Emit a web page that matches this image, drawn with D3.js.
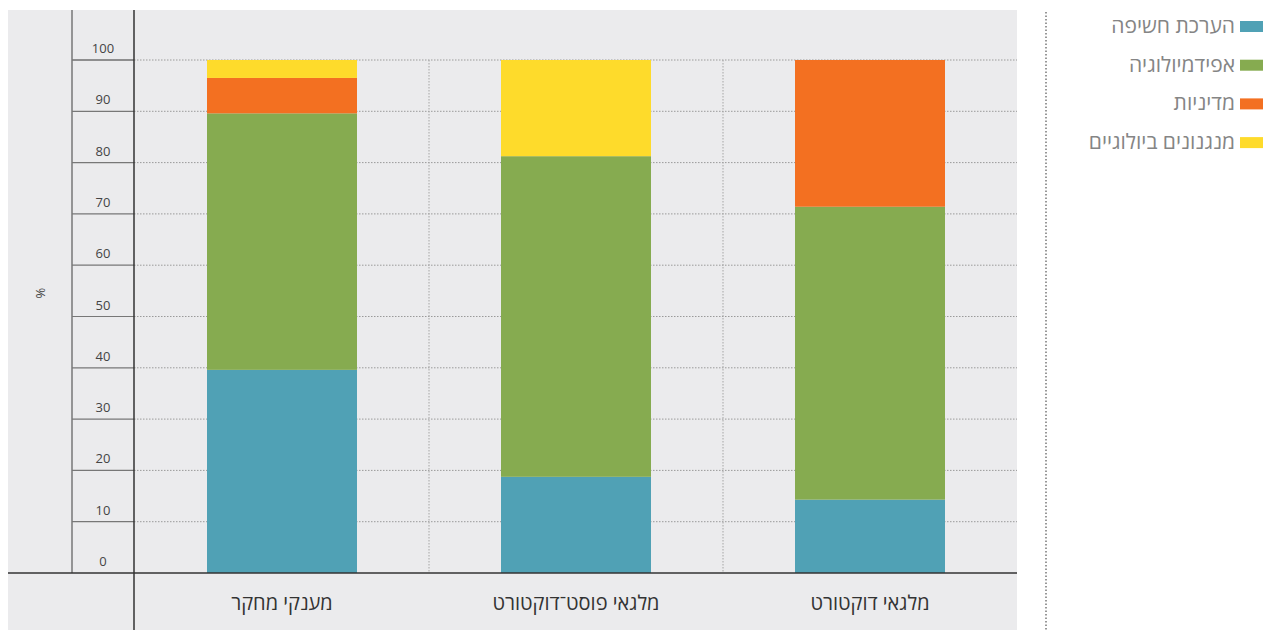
<!DOCTYPE html>
<html lang="he">
<head>
<meta charset="utf-8">
<script src="https://cdn.jsdelivr.net/npm/d3@7/dist/d3.min.js"></script>
<style>
  html, body { margin: 0; padding: 0; background: #ffffff; }
  svg { display: block; font-family: "Open Sans", "Noto Sans", "DejaVu Sans", sans-serif; }
</style>
</head>
<body>
<svg id="chart" width="1266" height="630"></svg>
<script>
// Funding categories (x axis), left to right
const categories = ["מענקי מחקר", "מלגאי פוסט־דוקטורט", "מלגאי דוקטורט"];

// Research field shares (%) per category, stacked bottom to top
const seriesNames = ["הערכת חשיפה", "אפידמיולוגיה", "מדיניות", "מנגנונים ביולוגיים"];
const exposureValues = [39.6, 18.75, 14.3];
const epidemiologyValues = [50.0, 62.5, 57.1];
const policyValues = [6.9, 0, 28.6];
const mechanismValues = [3.5, 18.75, 0];

const yTicks = [0, 10, 20, 30, 40, 50, 60, 70, 80, 90, 100];
const colors = ["#50a1b5", "#86ab50", "#f37021", "#fedb2b"];

const rows = categories.map((c, i) => ({
  category: c,
  [seriesNames[0]]: exposureValues[i],
  [seriesNames[1]]: epidemiologyValues[i],
  [seriesNames[2]]: policyValues[i],
  [seriesNames[3]]: mechanismValues[i]
}));

const svg = d3.select("#chart");

// Panel geometry
const panel = { left: 8, top: 10, right: 1017, bottom: 630 };
const axisCol = { left: 72, right: 134 };
const plot = { left: 135, right: 1017, top: 60, bottom: 573 };

svg.append("rect")
  .attr("x", panel.left).attr("y", panel.top)
  .attr("width", panel.right - panel.left).attr("height", panel.bottom - panel.top)
  .attr("fill", "#ebebed");

const x = d3.scaleBand().domain(categories).range([plot.left, plot.right]).paddingInner(0).paddingOuter(0);
const y = d3.scaleLinear().domain([0, 100]).range([plot.bottom, plot.top]);
const barWidth = 150;

// Horizontal gridlines: solid within the tick column, dotted across the plot
const grid = svg.append("g");
yTicks.filter(t => t > 0).forEach(t => {
  grid.append("line")
    .attr("x1", axisCol.left).attr("x2", axisCol.right)
    .attr("y1", y(t)).attr("y2", y(t))
    .attr("stroke", t === 100 ? "#333" : "#777").attr("stroke-width", 1.2);
  grid.append("line")
    .attr("x1", axisCol.right).attr("x2", plot.right)
    .attr("y1", y(t)).attr("y2", y(t))
    .attr("stroke", "#9a9a9a").attr("stroke-width", 1)
    .attr("stroke-dasharray", "1.5,1.5");
});

// Vertical separators between categories
categories.slice(1).forEach(c => {
  grid.append("line")
    .attr("x1", x(c)).attr("x2", x(c))
    .attr("y1", panel.top + 50).attr("y2", plot.bottom)
    .attr("stroke", "#a5a5a5").attr("stroke-width", 1)
    .attr("stroke-dasharray", "1.5,1.5");
});

// Stacked bars
const stack = d3.stack().keys(seriesNames)(rows);
svg.append("g").selectAll("g")
  .data(stack)
  .join("g")
  .attr("fill", (d, i) => colors[i])
  .selectAll("rect")
  .data(d => d)
  .join("rect")
  .attr("x", d => x(d.data.category) + x.bandwidth() / 2 - barWidth / 2)
  .attr("width", barWidth)
  .attr("y", d => y(d[1]))
  .attr("height", d => y(d[0]) - y(d[1]));

// Tick column borders and baseline
svg.append("line")
  .attr("x1", axisCol.left).attr("x2", axisCol.left)
  .attr("y1", panel.top).attr("y2", plot.bottom)
  .attr("stroke", "#777").attr("stroke-width", 1.5);
svg.append("line")
  .attr("x1", axisCol.right).attr("x2", axisCol.right)
  .attr("y1", panel.top).attr("y2", panel.bottom)
  .attr("stroke", "#333").attr("stroke-width", 1.5);
svg.append("line")
  .attr("x1", panel.left).attr("x2", panel.right)
  .attr("y1", plot.bottom).attr("y2", plot.bottom)
  .attr("stroke", "#333").attr("stroke-width", 1.5);

// Y tick labels, sitting above each gridline
svg.append("g").selectAll("text")
  .data(yTicks)
  .join("text")
  .attr("x", (axisCol.left + axisCol.right) / 2)
  .attr("y", d => y(d) - 7)
  .attr("text-anchor", "middle")
  .attr("font-size", 13)
  .attr("fill", "#444")
  .text(d => d);

// Y axis unit
svg.append("text")
  .attr("transform", "translate(45,293) rotate(-90)")
  .attr("text-anchor", "middle")
  .attr("font-size", 13)
  .attr("fill", "#444")
  .text("%");

// Category labels
svg.append("g").selectAll("text")
  .data(categories)
  .join("text")
  .attr("x", d => x(d) + x.bandwidth() / 2)
  .attr("y", 610)
  .attr("text-anchor", "middle")
  .attr("direction", "rtl")
  .attr("font-size", 20)
  .attr("fill", "#333")
  .text(d => d);

// Legend
svg.append("line")
  .attr("x1", 1046).attr("x2", 1046)
  .attr("y1", 12).attr("y2", 630)
  .attr("stroke", "#777").attr("stroke-width", 1.5)
  .attr("stroke-dasharray", "1.5,2");

const legend = svg.append("g").selectAll("g")
  .data(seriesNames)
  .join("g")
  .attr("transform", (d, i) => `translate(0,${21 + i * 38.7})`);
legend.append("rect")
  .attr("x", 1240).attr("y", 0)
  .attr("width", 23).attr("height", 11)
  .attr("fill", (d, i) => colors[i]);
legend.append("text")
  .attr("x", 1235).attr("y", 12)
  .attr("text-anchor", "end")
  .attr("direction", "ltr")
  .attr("font-size", 21)
  .attr("fill", "#858585")
  .text(d => d);
</script>
</body>
</html>
